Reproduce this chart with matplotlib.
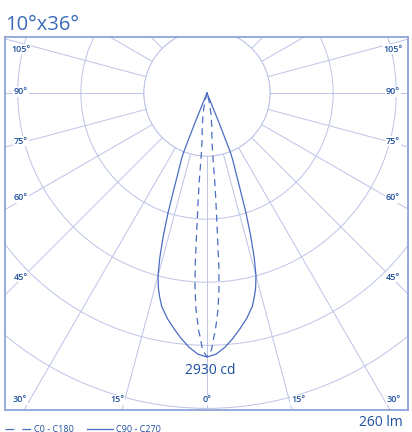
import numpy as np
import matplotlib
matplotlib.use("agg")
import matplotlib.pyplot as plt
from matplotlib.patches import Circle
from matplotlib.lines import Line2D

plt.rcParams['font.family'] = ['Open Sans', 'DejaVu Sans']

# luminous intensity (cd) vs angle from nadir (deg)
c0_angles = [0, 1, 1.6, 2, 2.9, 3.5, 3.9, 4.3, 4.7, 5.0, 5.3, 6, 8, 11, 14, 16]
c0_cd = [2930, 2850, 2710, 2640, 2410, 2180, 1935, 1500, 1200, 1000, 700, 520, 380, 230, 100, 0]

c90_angles = [0, 2, 4, 6, 8, 10, 12, 13, 14, 15, 16, 17, 18, 19, 20, 21, 21.5, 22, 22.5]
c90_cd = [2930, 2900, 2830, 2740, 2640, 2540, 2420, 2330, 2230, 2100, 1900, 1660, 1400,
          1130, 930, 800, 720, 380, 0]

rings = [700, 1400, 2100, 2800, 3500]
spoke_step = 15
side_labels = ["105°", "90°", "75°", "60°", "45°"]
bottom_labels = ["30°", "15°", "0°", "15°", "30°"]
title = "10°x36°"
peak_text = "2930 cd"
flux_text = "260 lm"
legend_names = ["C0 - C180", "C90 - C270"]

W, H = 412, 432
grid_col = "#bcc3e6"
line_col = "#4a6cc2"
text_col = "#1f4f9e"
frame_col = "#8da5da"

fig = plt.figure(figsize=(W / 100, H / 100), dpi=100)
box = (5, 37, 408, 410)  # px: left, top, right, bottom
ax = fig.add_axes([box[0] / W, 1 - box[3] / H, (box[2] - box[0]) / W, (box[3] - box[1]) / H])

cx, cy = 207, 93
k = 2930 / 264.0  # cd per pixel
ax.set_xlim((box[0] - cx) * k, (box[2] - cx) * k)
ax.set_ylim((cy - box[3]) * k, (cy - box[1]) * k)
ax.set_aspect("equal")
ax.set_xticks([])
ax.set_yticks([])
for s in ax.spines.values():
    s.set_color(frame_col)
    s.set_linewidth(1.3)


def polar(angles, vals):
    a = np.radians(np.asarray(angles, float))
    v = np.asarray(vals, float)
    return v * np.sin(a), -v * np.cos(a)


# spokes
for a in range(0, 360, spoke_step):
    x, y = polar([a, a], [rings[0], 8000])
    ax.plot(x, y, color=grid_col, lw=0.7, zorder=1)
# rings
for r in rings:
    ax.add_patch(Circle((0, 0), r, fill=False, ec=grid_col, lw=0.7, zorder=1))
ax.add_patch(Circle((0, 0), rings[0], fc="white", ec=grid_col, lw=0.7, zorder=1.5))


def mirrored(angles, vals):
    ang = [-a for a in angles[::-1]] + list(angles[1:])
    v = list(vals[::-1]) + list(vals[1:])
    return polar(ang, v)


x, y = mirrored(c0_angles, c0_cd)
ax.plot(x, y, color=line_col, lw=0.9, ls=(0, (5.5, 4)), zorder=3)
x, y = mirrored(c90_angles, c90_cd)
ax.plot(x, y, color=line_col, lw=0.9, zorder=3)


def px(xp, yp):
    return (xp - cx) * k, (cy - yp) * k


lab_kw = dict(fontsize=6.5, color=text_col, ha="center", va="center", zorder=4,
              fontweight="semibold", bbox=dict(fc="white", ec="none", pad=0.6))
side_y = [49, 92, 141, 198, 277]
for t, yy in zip(side_labels, side_y):
    ax.text(*px(21, yy), t, **lab_kw)
    ax.text(*px(393, yy), t, **lab_kw)
bottom_x = [20, 117, 207, 298, 394]
for t, xx in zip(bottom_labels, bottom_x):
    ax.text(*px(xx, 400), t, **lab_kw)

ax.text(*px(210, 371), peak_text, fontsize=10, color=text_col, ha="center", va="center",
        zorder=4)

fig.text(5 / W, 1 - 30 / H, title, fontsize=14.5, color="#3a6cb8", ha="left", va="baseline")
fig.text(403 / W, 1 - 422 / H, flux_text, fontsize=10, color=text_col, ha="right", va="center")

# legend
ly = 1 - 429 / H
fig.add_artist(Line2D([5 / W, 33 / W], [ly, ly], color=line_col, lw=0.9, ls=(0, (7, 6.5))))
fig.text(34 / W, ly, legend_names[0], fontsize=6.5, color=text_col, va="center")
fig.add_artist(Line2D([87 / W, 113 / W], [ly, ly], color=line_col, lw=0.9))
fig.text(116 / W, ly, legend_names[1], fontsize=6.5, color=text_col, va="center")

fig.savefig("out.png", dpi=100)
